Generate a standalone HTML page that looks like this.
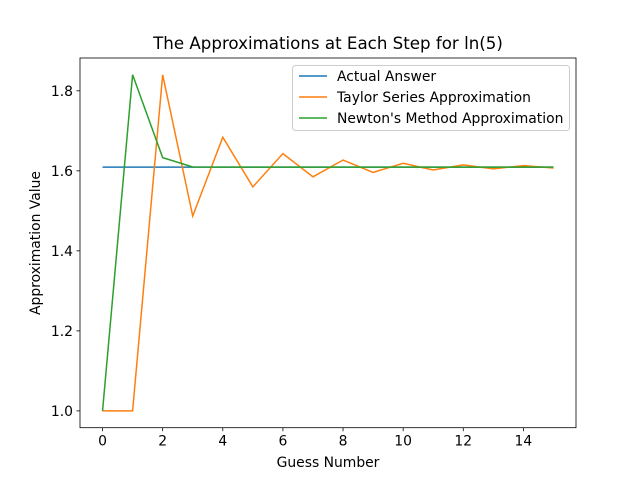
<!DOCTYPE html>
<html><head><meta charset="utf-8"><style>
body{margin:0;background:#fff}
svg text{font-family:"DejaVu Sans","Liberation Sans",sans-serif;fill:#000}
</style></head><body>
<svg id="chart" width="640" height="480" xmlns="http://www.w3.org/2000/svg"></svg>
<script>
const steps=[0,1,2,3,4,5,6,7,8,9,10,11,12,13,14,15];
const actual=[1.6094,1.6094,1.6094,1.6094,1.6094,1.6094,1.6094,1.6094,1.6094,1.6094,1.6094,1.6094,1.6094,1.6094,1.6094,1.6094];
const taylor=[1,1,1.84,1.487,1.684,1.56,1.643,1.585,1.627,1.596,1.619,1.602,1.615,1.605,1.613,1.607];
const newton=[1,1.84,1.633,1.6097,1.6094,1.6094,1.6094,1.6094,1.6094,1.6094,1.6094,1.6094,1.6094,1.6094,1.6094,1.6094];
const xTicks=[0,2,4,6,8,10,12,14];
const yTicks=[1.0,1.2,1.4,1.6,1.8];
const svg=document.getElementById('chart');
const NS='http://www.w3.org/2000/svg';
const L=80,R=576,T=58,B=427.7;
const xmin=-0.75,xmax=15.75,ymin=0.958,ymax=1.882;
const X=v=>L+(v-xmin)/(xmax-xmin)*(R-L);
const Y=v=>B-(v-ymin)/(ymax-ymin)*(B-T);
function mk(t,a,txt){const e=document.createElementNS(NS,t);for(const k in a)e.setAttribute(k,a[k]);if(txt!==undefined)e.textContent=txt;svg.appendChild(e);return e;}
let e;
e=mk('text',{x:328,y:49,'text-anchor':'middle','font-size':16.67},'The Approximations at Each Step for ln(5)');


xTicks.forEach(v=>{
 e=mk('line',{x1:X(v),x2:X(v),y1:B,y2:B+3.5,stroke:'#000','stroke-width':0.8});
 
 
 e=mk('text',{x:X(v),y:B+18,'text-anchor':'middle','font-size':13.9},String(v));
 
 
});
yTicks.forEach(v=>{
 e=mk('line',{x1:L-3.5,x2:L,y1:Y(v),y2:Y(v),stroke:'#000','stroke-width':0.8});
 
 
 e=mk('text',{x:L-7,y:Y(v)+5,'text-anchor':'end','font-size':13.9},v.toFixed(1));
 
 
});
e=mk('text',{x:328,y:467,'text-anchor':'middle','font-size':13.9},'Guess Number');


e=mk('text',{x:0,y:0,'text-anchor':'middle','font-size':13.9,transform:'translate(40,243) rotate(-90)'},'Approximation Value');


const series=[[actual,'#1f77b4','actual-answer-line'],[taylor,'#ff7f0e','taylor-series-line'],[newton,'#2ca02c','newton-method-line']];
series.forEach(s=>{
 e=mk('polyline',{points:steps.map((x,i)=>X(x)+','+Y(s[0][i])).join(' '),fill:'none',stroke:s[1],'stroke-width':1.5});
 
 
});
e=mk('rect',{x:L,y:T,width:R-L,height:B-T,fill:'none',stroke:'#000','stroke-width':0.8});


e=mk('rect',{x:292.5,y:65.5,width:277,height:65,fill:'#fff','fill-opacity':0.8,stroke:'#ccc',rx:3});


const names=['Actual Answer','Taylor Series Approximation',"Newton's Method Approximation"];
series.forEach((s,i)=>{
 const y=76+i*21;
 e=mk('line',{x1:299,x2:327,y1:y,y2:y,stroke:s[1],'stroke-width':1.5});
 
 
 e=mk('text',{x:337,y:y+5,'font-size':13.9},names[i]);
 
 
});
</script>
</body></html>
